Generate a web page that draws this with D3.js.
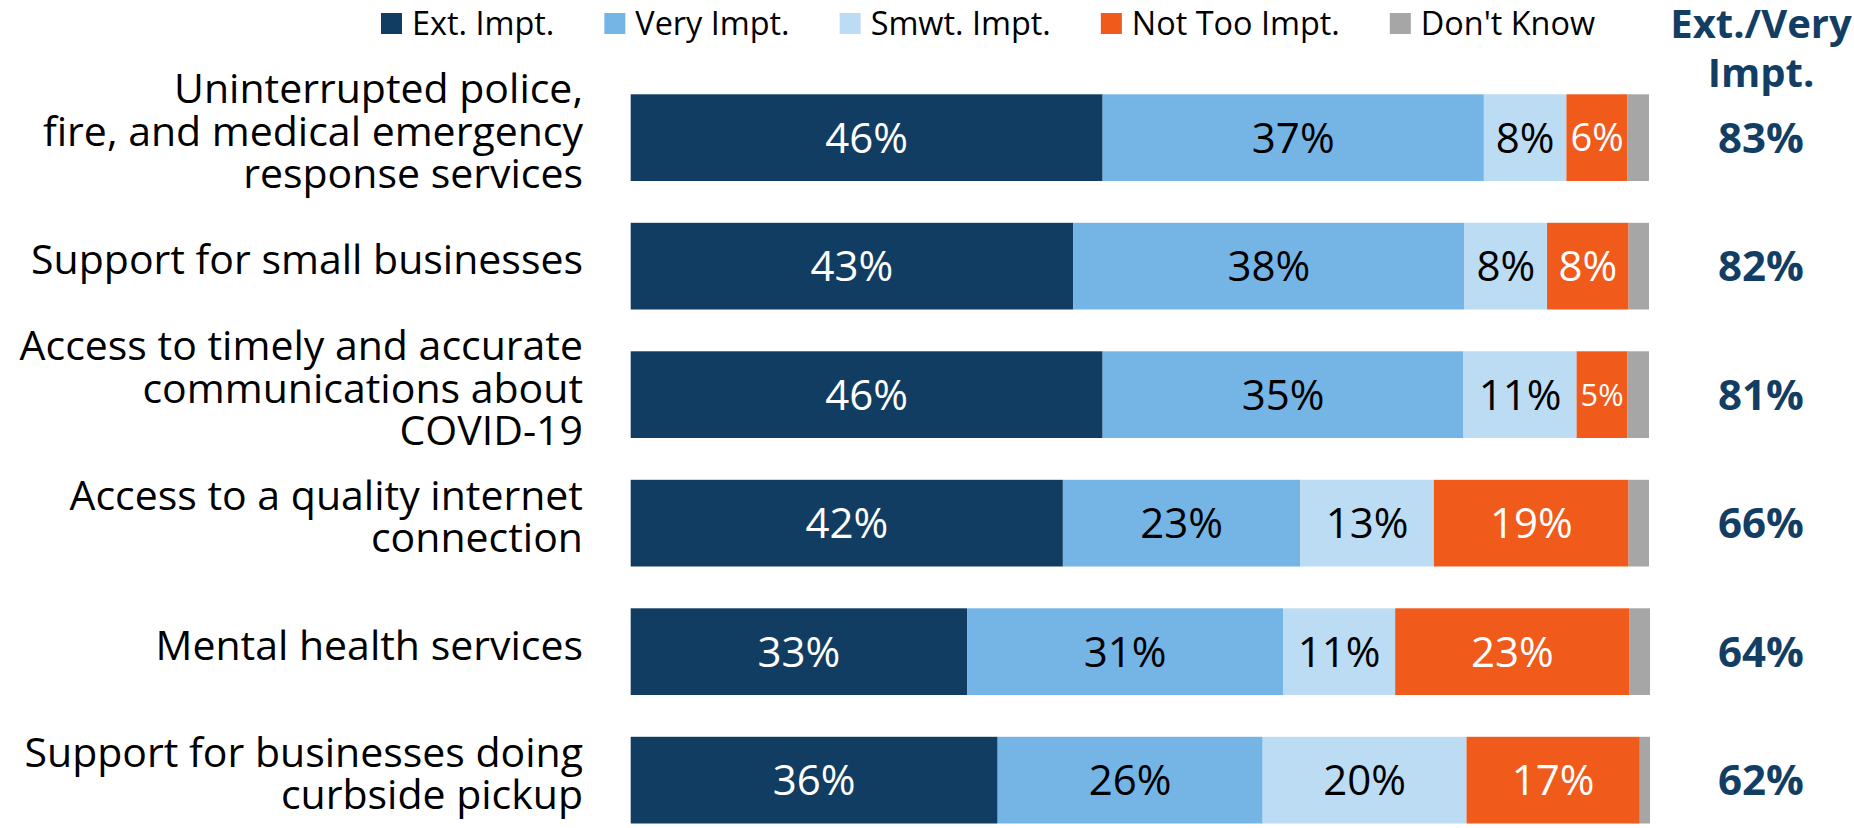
<!DOCTYPE html>
<html>
<head>
<meta charset="utf-8">
<script src="https://cdn.jsdelivr.net/npm/d3@7"></script>
<style>
  html, body { margin: 0; padding: 0; background: #ffffff; }
  svg { display: block; }
  text { font-family: "Open Sans", "Noto Sans", sans-serif; }
</style>
</head>
<body>
<script>
// ---------- data ----------
const categories = [
  "Uninterrupted police, fire, and medical emergency response services",
  "Support for small businesses",
  "Access to timely and accurate communications about COVID-19",
  "Access to a quality internet connection",
  "Mental health services",
  "Support for businesses doing curbside pickup"
];
const categoryLines = [
  ["Uninterrupted police,", "fire, and medical emergency", "response services"],
  ["Support for small businesses"],
  ["Access to timely and accurate", "communications about", "COVID-19"],
  ["Access to a quality internet", "connection"],
  ["Mental health services"],
  ["Support for businesses doing", "curbside pickup"]
];
const seriesNames = ["Ext. Impt.", "Very Impt.", "Smwt. Impt.", "Not Too Impt.", "Don't Know"];
const extImpt     = [46.3, 43.4, 46.3, 42.4, 33.0, 36.0];
const veryImpt    = [37.4, 38.4, 35.4, 23.3, 31.0, 26.0];
const smwtImpt    = [8.1, 8.1, 11.1, 13.1, 11.0, 20.0];
const notTooImpt  = [6.0, 8.0, 5.0, 19.1, 23.0, 17.0];
const dontKnow    = [2.1, 2.0, 2.1, 2.0, 2.0, 1.0];
const extVeryTotal = [83, 82, 81, 66, 64, 62];
const totalHeader = ["Ext./Very", "Impt."];

// ---------- styles ----------
const colors = ["#123d62", "#74b5e6", "#bbdcf3", "#f05a1b", "#a6a6a6"];
const labelColors = ["#ffffff", "#000000", "#000000", "#ffffff", null];
const headColor = "#133e64";

const W = 1854, H = 828;
const svg = d3.select("body").append("svg").attr("width", W).attr("height", H);

const seriesArrays = [extImpt, veryImpt, smwtImpt, notTooImpt, dontKnow];
const table = categories.map((c, i) => {
  const o = { category: c };
  seriesNames.forEach((s, k) => { o[s] = seriesArrays[k][i]; });
  return o;
});
const stacked = d3.stack().keys(seriesNames)(table);

const x = d3.scaleLinear().domain([0, 100]).range([630.7, 1650]);
const y = d3.scaleBand().domain(categories).range([94.3, 823.5]).paddingInner(0.3253).paddingOuter(0);

// bars
const layers = svg.append("g").selectAll("g").data(stacked).join("g")
  .attr("fill", (d, k) => colors[k]);
layers.selectAll("rect").data(d => d).join("rect")
  .attr("x", d => x(d[0]))
  .attr("y", d => y(d.data.category))
  .attr("width", d => Math.min(x(d[1]), x(100)) - x(d[0]))
  .attr("height", y.bandwidth());

// bar value labels
const BAR_FS = 42;
stacked.forEach((layer, k) => {
  if (!labelColors[k]) return;
  layer.forEach(d => {
    const w = x(d[1]) - x(d[0]);
    const t = svg.append("text")
      .attr("x", (x(d[0]) + x(d[1])) / 2)
      .attr("y", y(d.data.category) + y.bandwidth() / 2)
      .attr("dy", "0.36em")
      .attr("text-anchor", "middle")
      .attr("fill", labelColors[k])
      .style("font-size", BAR_FS + "px")
      .text(Math.round(d[1] - d[0]) + "%");
    const tw = t.node().getComputedTextLength();
    if (tw > w - 6) t.style("font-size", (BAR_FS * (w - 8) / tw) + "px");
  });
});

// category labels
const CAT_FS = 41, LINE = 42.6;
categories.forEach((c, i) => {
  const lines = categoryLines[i];
  const n = lines.length;
  const cy = y(c) + y.bandwidth() / 2;
  const mid = cy + 8;
  const t = svg.append("text")
    .attr("text-anchor", "end")
    .attr("fill", "#000000")
    .style("font-size", CAT_FS + "px");
  lines.forEach((ln, j) => {
    t.append("tspan").attr("x", 583).attr("y", mid + (j - (n - 1) / 2) * LINE).text(ln);
  });
});

// totals column
const TX = 1761;
svg.append("g").selectAll("text").data(categories).join("text")
  .attr("x", TX)
  .attr("y", c => y(c) + y.bandwidth() / 2)
  .attr("dy", "0.36em")
  .attr("text-anchor", "middle")
  .attr("fill", headColor)
  .style("font-size", "42px")
  .style("font-weight", "700")
  .text((c, i) => extVeryTotal[i] + "%");

svg.append("g").selectAll("text").data(totalHeader).join("text")
  .attr("x", TX)
  .attr("y", (d, i) => 38 + i * 49)
  .attr("text-anchor", "middle")
  .attr("fill", headColor)
  .style("font-size", "40px")
  .style("font-weight", "700")
  .text(d => d);

// legend
const LEG_FS = 32.4, SQ = 21;
let lx = 381;
seriesNames.forEach((s, k) => {
  svg.append("rect").attr("x", lx).attr("y", 13).attr("width", SQ).attr("height", SQ).attr("fill", colors[k]);
  const t = svg.append("text").attr("x", lx + 31).attr("y", 35)
    .attr("fill", "#000000").style("font-size", LEG_FS + "px").text(s);
  lx = lx + 31 + t.node().getComputedTextLength() + 50;
});
</script>
</body>
</html>
